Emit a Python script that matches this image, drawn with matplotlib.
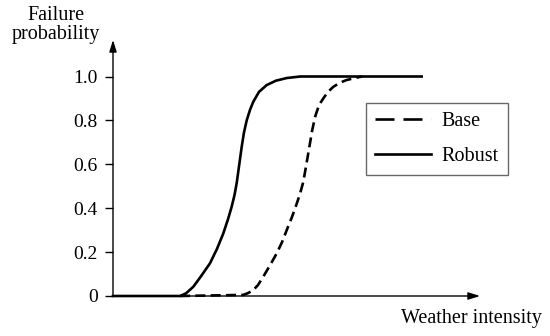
import numpy as np
import matplotlib.pyplot as plt
from matplotlib.lines import Line2D

plt.rcParams['font.family'] = ['Liberation Serif', 'DejaVu Serif']

# (intensity in arbitrary units 0-100)
robust_x = [0, 18.26, 19.89, 21.88, 23.98, 26.43, 28.34, 30.05, 31.34, 32.34, 33.11, 33.71,
            34.33, 35.07, 35.69, 36.43, 37.33, 38.23, 39.78, 41.88, 44.41, 47.33, 51.01, 84.11]
robust_p = [0, 0, 0.012, 0.042, 0.09, 0.149, 0.215, 0.285, 0.35, 0.407, 0.46, 0.515,
            0.59, 0.68, 0.745, 0.80, 0.848, 0.885, 0.93, 0.961, 0.981, 0.993, 1.0, 1.0]

base_x = [18.26, 35.50, 36.78, 38.23, 39.51, 40.95, 42.78, 44.60, 46.05, 47.33, 48.77, 50.05,
          50.95, 51.85, 52.59, 53.41, 54.22, 55.04, 56.13, 57.30, 58.58, 60.03, 61.85, 63.68,
          66.40, 67.85]
base_p = [0, 0.005, 0.013, 0.027, 0.05, 0.088, 0.14, 0.194, 0.245, 0.30, 0.36, 0.42,
          0.465, 0.52, 0.59, 0.67, 0.75, 0.815, 0.87, 0.90, 0.93, 0.953, 0.972, 0.984,
          0.995, 1.0]

yticks = [0, 0.2, 0.4, 0.6, 0.8, 1.0]
ytick_labels = ['0', '0.2', '0.4', '0.6', '0.8', '1.0']

fig = plt.figure(figsize=(5.5, 3.36), dpi=100)
ax = fig.add_axes([113/550, 40/336, (480-113)/550, (296-40)/336])
ax.set_xlim(0, 100)
ax.set_ylim(0, (296-40)/219.5)

lw = 1.9
ax.plot(base_x, base_p, color='k', lw=lw, dashes=(3.8, 2.0), clip_on=False)
ax.plot(robust_x, robust_p, color='k', lw=lw, clip_on=False)

for s in ax.spines.values():
    s.set_visible(False)
arrow = dict(arrowstyle='-|>,head_length=0.7,head_width=0.22', lw=1.0, color='k',
             shrinkA=0, shrinkB=0)
ax.annotate('', xy=(1, 0), xytext=(0, 0), xycoords='axes fraction', arrowprops=arrow)
ax.annotate('', xy=(0, 1), xytext=(0, 0), xycoords='axes fraction', arrowprops=arrow)

ax.set_xticks([])
ax.set_yticks(yticks)
ax.set_yticklabels(ytick_labels, fontsize=14)
ax.tick_params(axis='y', direction='out', length=6, width=1, pad=5)

fig.text(56/550, 1 - 25/336, 'Failure\nprobability', ha='center', va='center',
         fontsize=14.5, linespacing=1.05)
fig.text(471/550, 1 - 318/336, 'Weather intensity', ha='center', va='center', fontsize=14.5)

handles = [Line2D([], [], color='k', lw=lw, dashes=(7.2, 3.4)),
           Line2D([], [], color='k', lw=lw)]
leg = fig.legend(handles, ['Base', 'Robust'], loc='upper left',
                 bbox_to_anchor=(366/550, 1 - 103/336), fontsize=14.5,
                 frameon=True, fancybox=False, edgecolor='#444444',
                 handlelength=2.8, handletextpad=0.5, labelspacing=0.8,
                 borderpad=0.45, borderaxespad=0)
leg.get_frame().set_linewidth(1.0)

fig.savefig('out.png', dpi=100)
